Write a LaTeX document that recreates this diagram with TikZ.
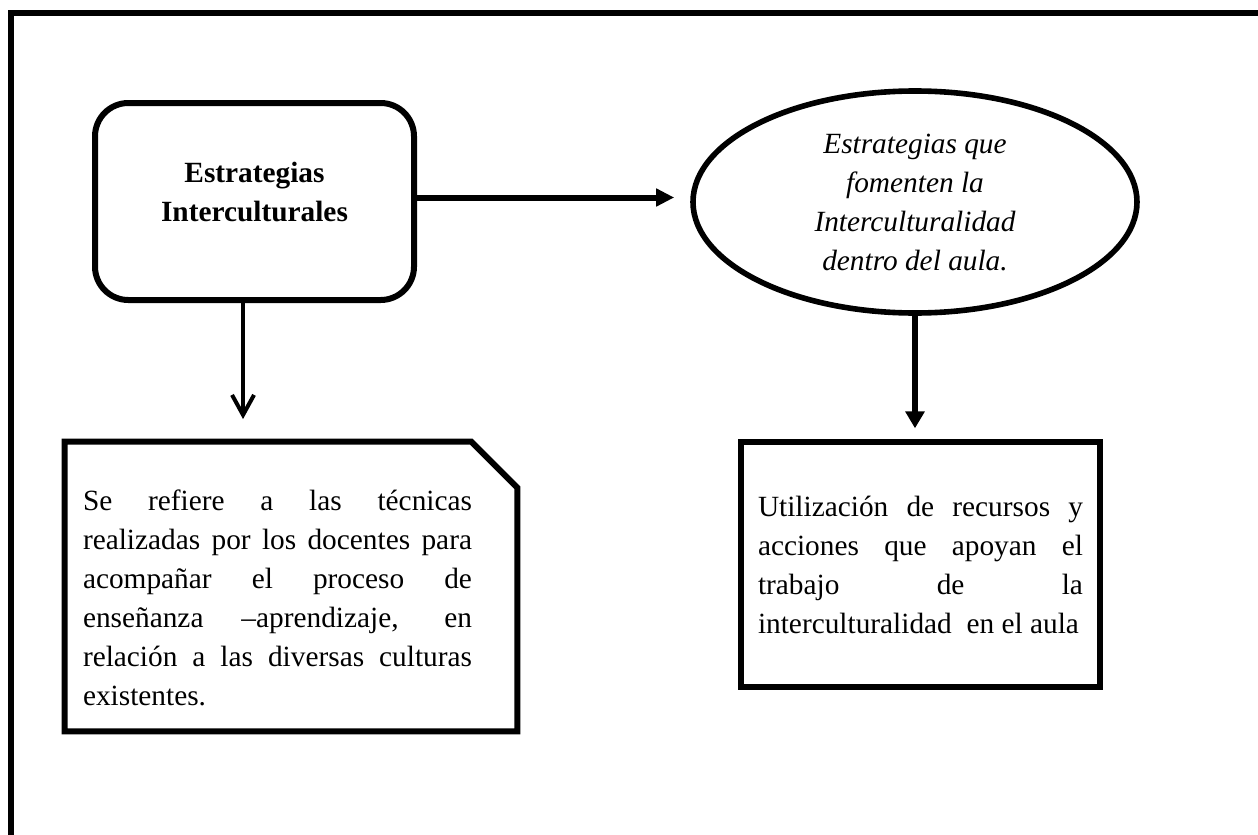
\documentclass[tikz,border=0pt]{standalone}
\usepackage{fontspec}
\setmainfont{Liberation Serif}
\usetikzlibrary{arrows.meta,shapes.geometric}
\tolerance=10000
\hyphenpenalty=10000
\hbadness=10000

\begin{document}
\begin{tikzpicture}[x=0.75pt,y=-0.75pt,
   every node/.style={inner sep=0pt,font=\fontsize{22}{29.25}\selectfont},
   frame/.style={line width=4.5pt},
   rbox/.style={draw,line width=4.5pt,rounded corners=25pt,minimum width=239.25pt,
      minimum height=147.75pt,align=center,font=\fontsize{22}{29.25}\selectfont\bfseries},
   oval/.style={draw,ellipse,line width=4.2pt,minimum width=333pt,minimum height=166.5pt,
      align=center,font=\fontsize{22}{29.25}\selectfont\itshape},
   sbox/.style={draw,line width=4.5pt,minimum width=269.25pt,minimum height=183.75pt,
      text width=243.75pt,align=justify},
   flow/.style={line width=4.5pt}]
   \useasboundingbox (0,0) rectangle (1258,835);
   \draw[frame] (11,835) -- (11,13) -- (1258,13);

   \node[rbox,text depth=15pt] (estr) at (254.5,201.5) {Estrategias\\Interculturales};
   \node[oval] (fom) at (915,202) {Estrategias que\\fomenten la\\Interculturalidad\\dentro del aula.};
   \node[minimum width=339pt,minimum height=216.75pt] (def) at (291,586.5) {};
   \node[text width=291.75pt,align=justify] (deftxt) at ([shift={(-13.5,11.5)}]def.center)
      {Se refiere a las técnicas\linebreak realizadas por los docentes para\linebreak
       acompañar el proceso de\linebreak enseñanza –aprendizaje, en\linebreak
       relación a las diversas culturas\linebreak existentes.};
   \node[sbox] (uti) at (920.5,564.5)
      {Utilización de recursos y\linebreak acciones que apoyan el\linebreak
       trabajo de la\linebreak interculturalidad\ \ en el aula};

   \draw[frame] (def.south west) -- (def.north west) -- ([shift={(-46,0)}]def.north east)
      -- ([shift={(0,46)}]def.north east) -- (def.south east) -- cycle;

   \draw[flow,-{Triangle[length=13.5pt,width=12.75pt]},shorten >=12pt]
      ([yshift=3pt]estr.east) -- ([yshift=3pt]estr.east -| fom.west);
   \draw[flow,-{Triangle[length=12.75pt,width=14pt]},shorten >=8pt] (fom.south) -- (fom.south |- uti.north);
   \draw[line width=3pt,-{Straight Barb[length=15pt,width=16.5pt]},shorten >=17pt]
      ([xshift=-8.6pt]estr.south) -- ([xshift=-8.6pt]estr.south |- def.north);
\end{tikzpicture}
\end{document}
